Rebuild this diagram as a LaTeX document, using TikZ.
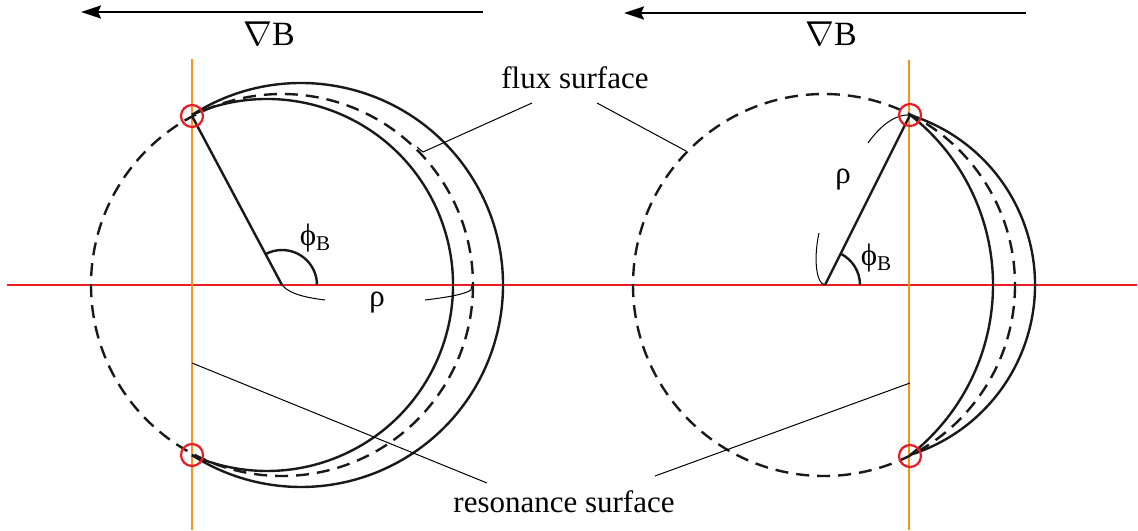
\documentclass[tikz,border=0pt]{standalone}
\usepackage{fontspec}
\setmainfont{Liberation Serif}
\usetikzlibrary{arrows.meta}
\definecolor{resred}{RGB}{237,28,36}
\definecolor{resorange}{RGB}{247,148,29}
\tikzset{
 solidarc/.style={line width=1.2pt, black!90},
 dasharc/.style={line width=1.2pt, black!90, dash pattern=on 6.5pt off 4pt},
 leader/.style={line width=0.5pt, black},
 redline/.style={resred, line width=1pt},
 orangeline/.style={resorange, line width=1.3pt},
 marker/.style={circle, draw=resred, line width=1.1pt, minimum size=11pt, inner sep=0pt},
 lbl/.style={font=\fontsize{15.5}{18}\selectfont, inner sep=0pt},
 biglbl/.style={font=\fontsize{17}{20}\selectfont, inner sep=0pt},
 gradarrow/.style={line width=1.1pt, -{Stealth[length=10pt,width=6.5pt,inset=1.5pt]}},
}
\newcommand{\phiB}{\symbol{"03D5}\raisebox{-2.5pt}{\fontsize{10.5}{12}\selectfont B}}
\begin{document}
\begin{tikzpicture}[x=0.5pt,y=-0.5pt]
\useasboundingbox (0,0) rectangle (1138,530);
% ---------- gradient arrows ----------
\coordinate (aLs) at (483,12); \coordinate (aLe) at (81,12);
\coordinate (aRs) at (1026,13); \coordinate (aRe) at (624,13);
\draw[gradarrow] (aLs) -- (aLe);
\draw[gradarrow] (aRs) -- (aRe);
\node[biglbl] (gL) at (269,34) {$\nabla$B};
\node[biglbl] (gR) at (831,34) {$\nabla$B};
% ---------- axes ----------
\coordinate (hL1) at (7,285); \coordinate (hL2) at (599,285);
\coordinate (hR1) at (549,285); \coordinate (hR2) at (1137,285);
\draw[redline] (hL1) -- (hL2);
\draw[redline] (hR1) -- (hR2);
\coordinate (vL1) at (192,59); \coordinate (vL2) at (192,530);
\coordinate (vR1) at (909,60); \coordinate (vR2) at (909,530);
\draw[orangeline] (vL1) -- (vL2);
\draw[orangeline] (vR1) -- (vR2);
% ---------- left diagram ----------
\coordinate (cL) at (282,285);
\coordinate (tL) at (192,116);
\coordinate (bL) at (192,455);
\draw[dasharc] (cL) circle[radius=191];
\draw[solidarc] (267,285) ++(-113.8:186) arc[start angle=-113.8,end angle=113.8,radius=186];
\draw[solidarc] (301,285) ++(-122.65:202) arc[start angle=-122.65,end angle=122.65,radius=202];
\draw[solidarc] (cL) -- (tL);
\draw[solidarc] (cL) ++(0:35) arc[start angle=0,end angle=-118,radius=35];
\node[lbl] (phL) at (315,238) {\phiB};
\node[lbl] (rhoL) at (377,303) {ρ};
\draw[leader] (cL) .. controls (290,295) and (310,298) .. (325,300);
\draw[leader] (425,300) .. controls (450,297) and (465,294) .. (471,290) -- (472,284);
\node[marker] (mtL) at (tL) {};
\node[marker] (mbL) at (bL) {};
% ---------- right diagram ----------
\coordinate (cR) at (825,285);
\coordinate (tR) at (910,115);
\coordinate (bR) at (910,456);
\draw[dasharc] (824,285) circle[radius=191];
\draw[solidarc] (777,285) ++(-52:216) arc[start angle=-52,end angle=52,radius=216];
\draw[solidarc] (857,285) ++(-72.67:178) arc[start angle=-72.67,end angle=72.67,radius=178];
\draw[solidarc] (cR) -- (tR);
\draw[solidarc] (cR) ++(0:35) arc[start angle=0,end angle=-63.4,radius=35];
\node[lbl] (phR) at (876,258) {\phiB};
\node[lbl] (rhoR) at (843,180) {ρ};
\draw[leader] (cR) .. controls (815,283) and (814,255) .. (819,233);
\draw[leader] (868,143) .. controls (880,126) and (895,114) .. (tR);
\node[marker] (mtR) at (tR) {};
\node[marker] (mbR) at (bR) {};
% ---------- labels and leaders ----------
\node[lbl] (flux) at (575,78) {flux surface};
\node[lbl] (res) at (564,502) {resonance surface};
\coordinate (fL1) at (532,103); \coordinate (fL2) at (423,152); \coordinate (fL3) at (417,147);
\draw[leader] (fL1) -- (fL2) -- (fL3);
\coordinate (fR1) at (597,103); \coordinate (fR2) at (686,151);
\draw[leader] (fR1) -- (fR2);
\coordinate (rL1) at (192,363); \coordinate (rL2) at (487,483);
\draw[leader] (rL1) -- (rL2);
\coordinate (rR1) at (910,383); \coordinate (rR2) at (655,476);
\draw[leader] (rR1) -- (rR2);
\end{tikzpicture}
\end{document}
